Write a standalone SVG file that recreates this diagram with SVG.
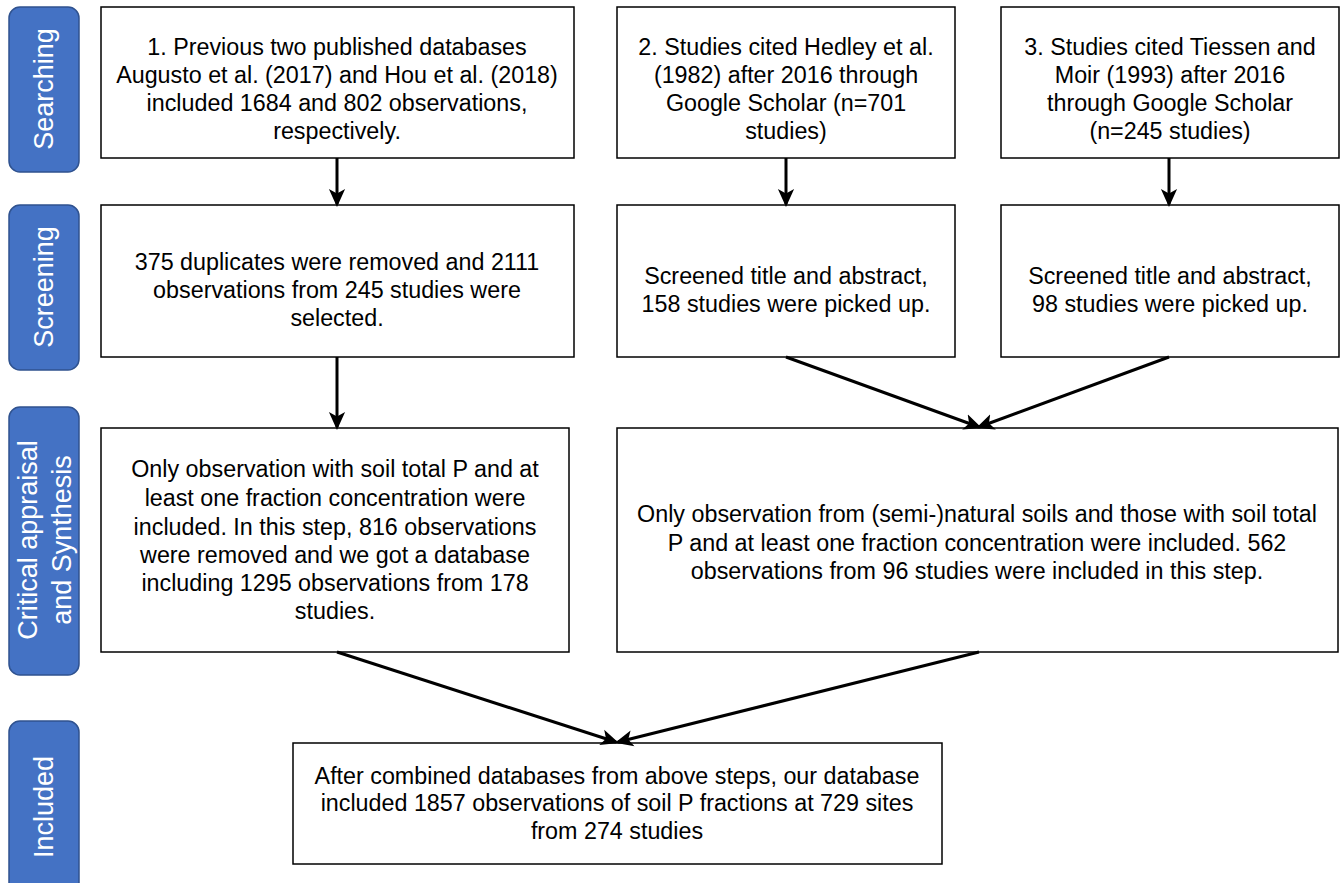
<svg xmlns="http://www.w3.org/2000/svg" width="1343" height="883" viewBox="0 0 1343 883">
<style>
.side{fill:#4472C4;stroke:#2F528F;stroke-width:1.5}
.sl{fill:#fff;font-family:"Liberation Sans",Arial,sans-serif;font-size:27px;text-anchor:middle}
.box{fill:#fff;stroke:#000;stroke-width:1.5}
.t{fill:#000;font-family:"Liberation Sans",Arial,sans-serif;font-size:23.3px;text-anchor:middle}
.c{stroke:#000;stroke-width:3;fill:none;marker-end:url(#ah)}
</style>
<defs>
<marker id="ah" markerWidth="6" markerHeight="6" refX="5" refY="3" orient="auto" markerUnits="strokeWidth">
<path d="M0,0.3 L6,3 L0,5.7 L1.5,3 Z" fill="#000"/>
</marker>
</defs>
<rect width="1343" height="883" fill="#fff"/>
<g id="side-searching"><rect class="side" x="9" y="7" width="70" height="165" rx="11"/><text class="sl" transform="translate(53,89) rotate(-90)">Searching</text></g>
<g id="side-screening"><rect class="side" x="9" y="205" width="70" height="165" rx="11"/><text class="sl" transform="translate(53,287) rotate(-90)">Screening</text></g>
<g id="side-critical"><rect class="side" x="9" y="407" width="70" height="268" rx="11"/><text class="sl" transform="translate(37,540) rotate(-90)">Critical appraisal</text><text class="sl" transform="translate(71,540) rotate(-90)">and Synthesis</text></g>
<g id="side-included"><rect class="side" x="9" y="721" width="70" height="175" rx="11"/><text class="sl" transform="translate(53,807) rotate(-90)">Included</text></g>

<g id="box1"><rect class="box" x="101" y="7" width="473" height="151"/>
<text class="t" x="337" y="55">1. Previous two published databases</text>
<text class="t" x="337" y="83">Augusto et al. (2017) and Hou et al. (2018)</text>
<text class="t" x="337" y="111">included 1684 and 802 observations,</text>
<text class="t" x="337" y="139">respectively.</text></g>
<g id="box2"><rect class="box" x="617" y="7" width="338" height="151"/>
<text class="t" x="786" y="55">2. Studies cited Hedley et al.</text>
<text class="t" x="786" y="83">(1982) after 2016  through</text>
<text class="t" x="786" y="111">Google Scholar (n=701</text>
<text class="t" x="786" y="139">studies)</text></g>
<g id="box3"><rect class="box" x="1001" y="7" width="338" height="151"/>
<text class="t" x="1170" y="55">3. Studies cited Tiessen and</text>
<text class="t" x="1170" y="83">Moir (1993) after 2016</text>
<text class="t" x="1170" y="111">through Google Scholar</text>
<text class="t" x="1170" y="139">(n=245 studies)</text></g>
<g id="box4"><rect class="box" x="101" y="205" width="473" height="152"/>
<text class="t" x="337" y="270">375 duplicates were removed and 2111</text>
<text class="t" x="337" y="298">observations from 245 studies were</text>
<text class="t" x="337" y="326">selected.</text></g>
<g id="box5"><rect class="box" x="617" y="205" width="338" height="152"/>
<text class="t" x="786" y="284">Screened title and abstract,</text>
<text class="t" x="786" y="312">158 studies were picked up.</text></g>
<g id="box6"><rect class="box" x="1001" y="205" width="338" height="152"/>
<text class="t" x="1170" y="284">Screened title and abstract,</text>
<text class="t" x="1170" y="312">98 studies were picked up.</text></g>
<g id="box7"><rect class="box" x="101" y="428" width="468" height="224"/>
<text class="t" x="335" y="477">Only observation with soil total P and at</text>
<text class="t" x="335" y="506">least one fraction concentration were</text>
<text class="t" x="335" y="535">included. In this step, 816 observations</text>
<text class="t" x="335" y="563">were removed and we got a database</text>
<text class="t" x="335" y="591">including 1295 observations from 178</text>
<text class="t" x="335" y="619">studies.</text></g>
<g id="box8"><rect class="box" x="617" y="428" width="721" height="224"/>
<text class="t" x="977" y="522">Only observation from (semi-)natural soils and those with soil total</text>
<text class="t" x="977" y="551">P and at least one fraction concentration were included. 562</text>
<text class="t" x="977" y="579">observations from 96 studies were included in this step.</text></g>
<g id="box9"><rect class="box" x="293" y="743" width="649" height="121"/>
<text class="t" x="617" y="784">After combined databases from above steps, our database</text>
<text class="t" x="617" y="811">included 1857 observations of soil P fractions at 729 sites</text>
<text class="t" x="617" y="839">from 274 studies</text></g>

<g id="connectors">
<line class="c" x1="337" y1="158" x2="337" y2="204"/>
<line class="c" x1="786" y1="158" x2="786" y2="204"/>
<line class="c" x1="1169" y1="158" x2="1169" y2="204"/>
<line class="c" x1="337" y1="357" x2="337" y2="427"/>
<line class="c" x1="786" y1="357" x2="979" y2="427"/>
<line class="c" x1="1169" y1="357" x2="979" y2="427"/>
<line class="c" x1="337" y1="652" x2="616" y2="742"/>
<line class="c" x1="979" y1="652" x2="618" y2="742"/>
</g>
</svg>
